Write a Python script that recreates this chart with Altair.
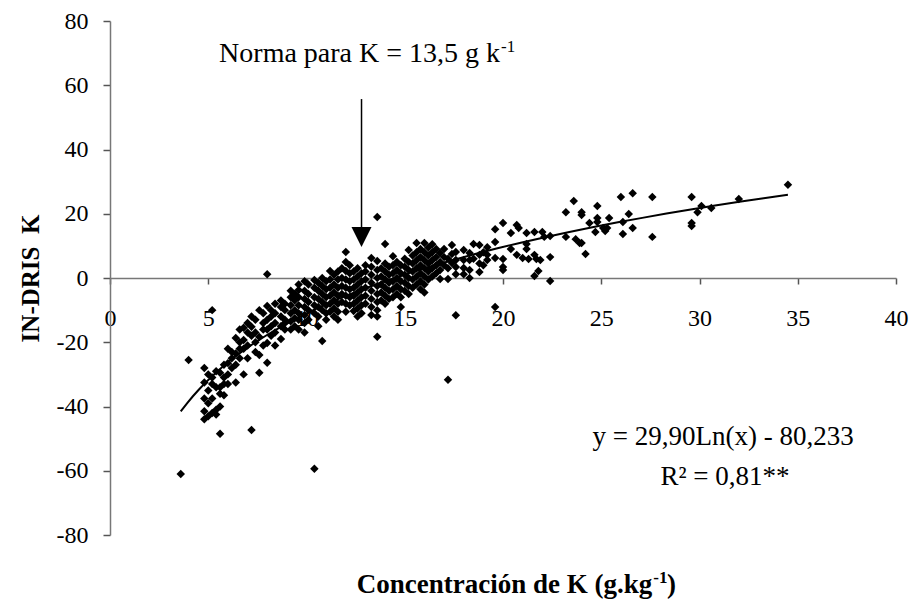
import altair as alt
import pandas as pd

# ---- scatter data: (K concentration, list of IN-DRIS K values read in vertical columns)
cols_low = [
    (3.6, [-61]), (4.0, [-25.5]), (4.8, [-28, -32.5, -37.5, -41.5, -44]),
    (5.0, [-30, -35, -39, -43]), (5.2, [-10, -31, -33, -37.5, -42]),
    (5.4, [-29, -34, -41, -42.5]), (5.6, [-29.5, -34, -36, -40, -48.5]),
    (5.8, [-27, -31, -33, -36.5]), (6.0, [-22, -26.5, -30, -33]),
    (6.2, [-23, -25, -28]), (6.4, [-18.7, -23.5, -27, -32.5]),
    (6.6, [-16, -20, -22, -25]), (6.8, [-15.5, -19.3, -22, -30]),
    (7.0, [-14, -17, -21, -25]), (7.2, [-12, -15.2, -18, -47.3]),
    (7.4, [-13, -17, -20, -23]), (7.6, [-10, -18.4, -24, -29.5]),
    (7.8, [-11, -14, -16, -21]), (8.0, [1.2, -8.7, -13, -16, -20.2, -26.4]),
    (8.2, [-10, -12, -15, -18]), (8.4, [-8, -11, -14, -17, -21]),
    (8.7, [-7, -9, -12, -15, -19]), (8.9, [-8, -10, -13, -14, -16]),
]
cols_mid = [
    (9.2, [-4, -6, -8.5, -11, -13.5, -16]), (9.4, [-5, -7, -10, -12.5, -15]),
    (9.6, [-2, -3.7, -6, -8.5, -11, -13, -16]), (9.9, [-1, -4, -6.5, -9, -11.5, -14, -17]),
    (10.1, [-2, -5, -7.5, -10, -13]), (10.4, [-0.6, -3, -6, -8.5, -11, -59.4]),
    (10.6, [-1.5, -4, -6.5, -9, -12, -15]), (10.8, [0, -2.5, -5, -7.5, -10, -19.6]),
    (11.0, [-1, -3.5, -6, -8.5, -11, -13]), (11.2, [2.2, -0.5, -3, -5.5, -8, -10.5]),
    (11.4, [1, -2, -4.5, -7, -9.5, -12]), (11.6, [2, -0.5, -3, -5.5, -8, -10.5, -13]),
    (11.8, [3, 0, -2.5, -5, -7.5]), (12.0, [8.1, 5, 2.2, -0.5, -3, -5.5, -8, -10.5]),
    (12.2, [4, 1.5, -1, -3.5, -6, -8.5]), (12.4, [2, -0.5, -3, -5.5, -8, -10.3]),
    (12.6, [3, 0.5, -2, -4.5, -7, -9.5, -12]), (12.8, [1.5, -1, -3.5, -6, -8.5, -11]),
    (13.0, [4, 2, -0.5, -3, -5.5, -8]), (13.3, [6.2, 3.5, 1, -1.5, -4, -6.5, -9, -11.5]),
    (13.6, [19, 5.3, 2.5, 0, -2.5, -5, -7.5, -10, -12, -18.3]),
    (13.8, [3, 0.5, -2, -4.5, -7]), (14.0, [10.6, 4.5, 2, -0.5, -3, -5.5, -8]),
    (14.2, [3.5, 1, -1.5, -4, -6.5]), (14.4, [6.8, 4, 1.5, -1, -3.5, -6]),
    (14.6, [5, 2.5, 0, -2.5, -5]), (14.8, [4, 1.5, -1, -3.5, -6, -9]),
    (15.0, [6, 3.5, 1, -1.5, -4]), (15.2, [8.7, 5, 2.5, 0, -2.5, -5]),
    (15.4, [7, 4.5, 2, -0.5, -3]), (15.6, [10.9, 8, 5.5, 3, 0.5, -2]),
    (15.8, [9, 6.5, 4, 1.5, -1, -3.5]), (16.0, [10.9, 8, 5.5, 3, 0.5, -2, -4.5]),
    (16.2, [9.5, 7, 4.5, 2, -0.5]), (16.4, [10.5, 8, 5.5, 3, 0.5]),
    (16.6, [9, 6.5, 4, 1.5]), (16.8, [7.8, 5, 2.5, -0.3]),
    (17.0, [9, 6.5, 4]), (17.2, [6, 3, -0.3, -31.7]), (17.4, [10.3, 7.5, 4.7]),
    (17.6, [8.1, 5.6, 3.4, 1.2, -11.6]), (18.0, [8.7, 5.6, 3.1, 1.2]),
    (18.3, [7.8, 5.6, 2.5, 0]), (18.5, [10.6, 6]), (18.8, [10.3, 7.2, 4.5, 1.9]),
    (19.0, [8, 4]), (19.2, [9.6, 7.2, 5.6]), (19.6, [15.2, 11.2, 6.2, -9]),
]
cols_high = [
    (20.0, [17.1, 5.9, 3.4, 2.5]), (20.4, [14, 9]), (20.7, [16.5, 7.2]), (20.8, [15.6]),
    (21.0, [6.2]), (21.2, [14, 10.6, 9]), (21.3, [5.9]), (21.6, [14.3, 7.2, 0.6]),
    (21.7, [5.9]), (21.8, [2.2]), (21.9, [5.6]), (22.0, [14.3]), (22.1, [12.8]),
    (22.4, [13.1, 6.5, -0.9]), (23.2, [20.5, 12.8]), (23.6, [24]), (23.7, [12.1]),
    (23.9, [10.9]), (24.0, [20.5, 19.6, 10.9]), (24.2, [7.5]), (24.4, [17.1]),
    (24.7, [14.3]), (24.8, [22.4, 18.7, 17.4]), (25.1, [15.6]), (25.2, [14.6]),
    (25.3, [15.6]), (25.4, [18.7]), (26.0, [25.2]), (26.1, [17.4, 13.7]),
    (26.4, [19.9]), (26.6, [26.4, 15.6]), (27.6, [25.2, 12.8]),
    (29.6, [25.2, 17.1, 16.2]), (29.9, [20.5]), (30.1, [22.4]), (30.6, [21.8]),
    (32.0, [24.6]), (34.5, [29]),
]

x_ticks = [0, 5, 10, 15, 20, 25, 30, 35, 40]
y_ticks = [-80, -60, -40, -20, 0, 20, 40, 60, 80]
fit_extent = [3.6, 34.5]

# annotation arrow (norm for K)
arrow_x = [12.8]
arrow_top = [55.7]
arrow_head = [12.75]

rows = [(x, y) for x, ys in cols_low + cols_mid + cols_high for y in ys]
df = pd.DataFrame(rows, columns=["x", "y"])

FONT = "Liberation Serif, Times New Roman, serif"
xs = alt.Scale(domain=[0, 40], nice=False, zero=False)
ys_ = alt.Scale(domain=[-80, 80], nice=False, zero=False)

hyphen_labels = "datum.value < 0 ? '-' + abs(datum.value) : '' + datum.value"

x_axis = alt.Axis(values=x_ticks, offset=-257, tickSize=6, labelPadding=22,
                  labelFontSize=24, labelFont=FONT, labelColor="black",
                  domainColor="#777777", tickColor="#555555", domainWidth=1.5,
                  tickWidth=1.5, grid=False, title=None, labelFlush=False)
y_axis = alt.Axis(values=y_ticks, tickSize=7, labelPadding=15, labelFontSize=24,
                  labelFont=FONT, labelColor="black", domainColor="#777777",
                  tickColor="#555555", domainWidth=1.5, tickWidth=1.5, grid=False,
                  labelExpr=hyphen_labels,
                  title="IN-DRIS\u00a0 K", titleFont=FONT, titleFontSize=25,
                  titleFontWeight="bold", titleColor="black", titleAngle=270,
                  titleX=-80, titleY=257, titleAlign="center",
                  titleBaseline="middle", labelFlush=False)

X = alt.X("x:Q", scale=xs, axis=x_axis)
Y = alt.Y("y:Q", scale=ys_, axis=y_axis)

points = alt.Chart(df).mark_point(shape="diamond", filled=True, color="black",
                                  size=72, opacity=1).encode(x=X, y=Y)

fit = alt.Chart(df).transform_regression(
    "x", "y", method="log", extent=fit_extent
).mark_line(color="black", strokeWidth=2).encode(x=X, y=Y)

arrow_df = pd.DataFrame({"x": arrow_x, "y": arrow_top, "y2": arrow_head})
arrow_line = alt.Chart(arrow_df).mark_rule(color="black", strokeWidth=1.5).encode(
    x=X, y=Y, y2="y2:Q")
head_df = pd.DataFrame({"x": arrow_x, "y": arrow_head})
arrow_tip = alt.Chart(head_df).mark_point(
    shape="M-1,-1L1,-1L0,1Z", filled=True, color="black", size=400, opacity=1
).encode(x=X, y=Y)

def label(texts, xv, yv, size, align, bold=False):
    d = pd.DataFrame({"x": xv, "y": yv, "t": texts})
    return alt.Chart(d).mark_text(
        font=FONT, fontSize=size, align=align, baseline="alphabetic",
        color="black", fontWeight="bold" if bold else "normal"
    ).encode(x=X, y=Y, text="t:N")

norma_main = label(["Norma para K = 13,5 g k"], [19.85], [67.2], 28, "right")
norma_sup = label(["-1"], [19.9], [70.3], 17, "left")
eq1 = label(["y = 29,90Ln(x) - 80,233"], [31.2], [-52.0], 27, "center")
eq2 = label(["R\u00b2 = 0,81**"], [31.3], [-64.4], 27, "center")
xt_main = label(["Concentración de K (g.kg"], [27.6], [-98.0], 27, "right", True)
xt_sup = label(["-1"], [27.65], [-94.9], 17, "left", True)
xt_end = label([")"], [28.35], [-98.0], 27, "left", True)

chart = alt.layer(points, fit, arrow_line, arrow_tip, norma_main, norma_sup,
                  eq1, eq2, xt_main, xt_sup, xt_end).properties(
    width=786, height=514,
    autosize=alt.AutoSizeParams(type="none"),
    padding={"left": 102, "top": 13, "right": 13, "bottom": 64},
    background="white",
).configure_view(stroke=None)

chart.save("out.html", embed_options={"renderer": "svg", "actions": False})
